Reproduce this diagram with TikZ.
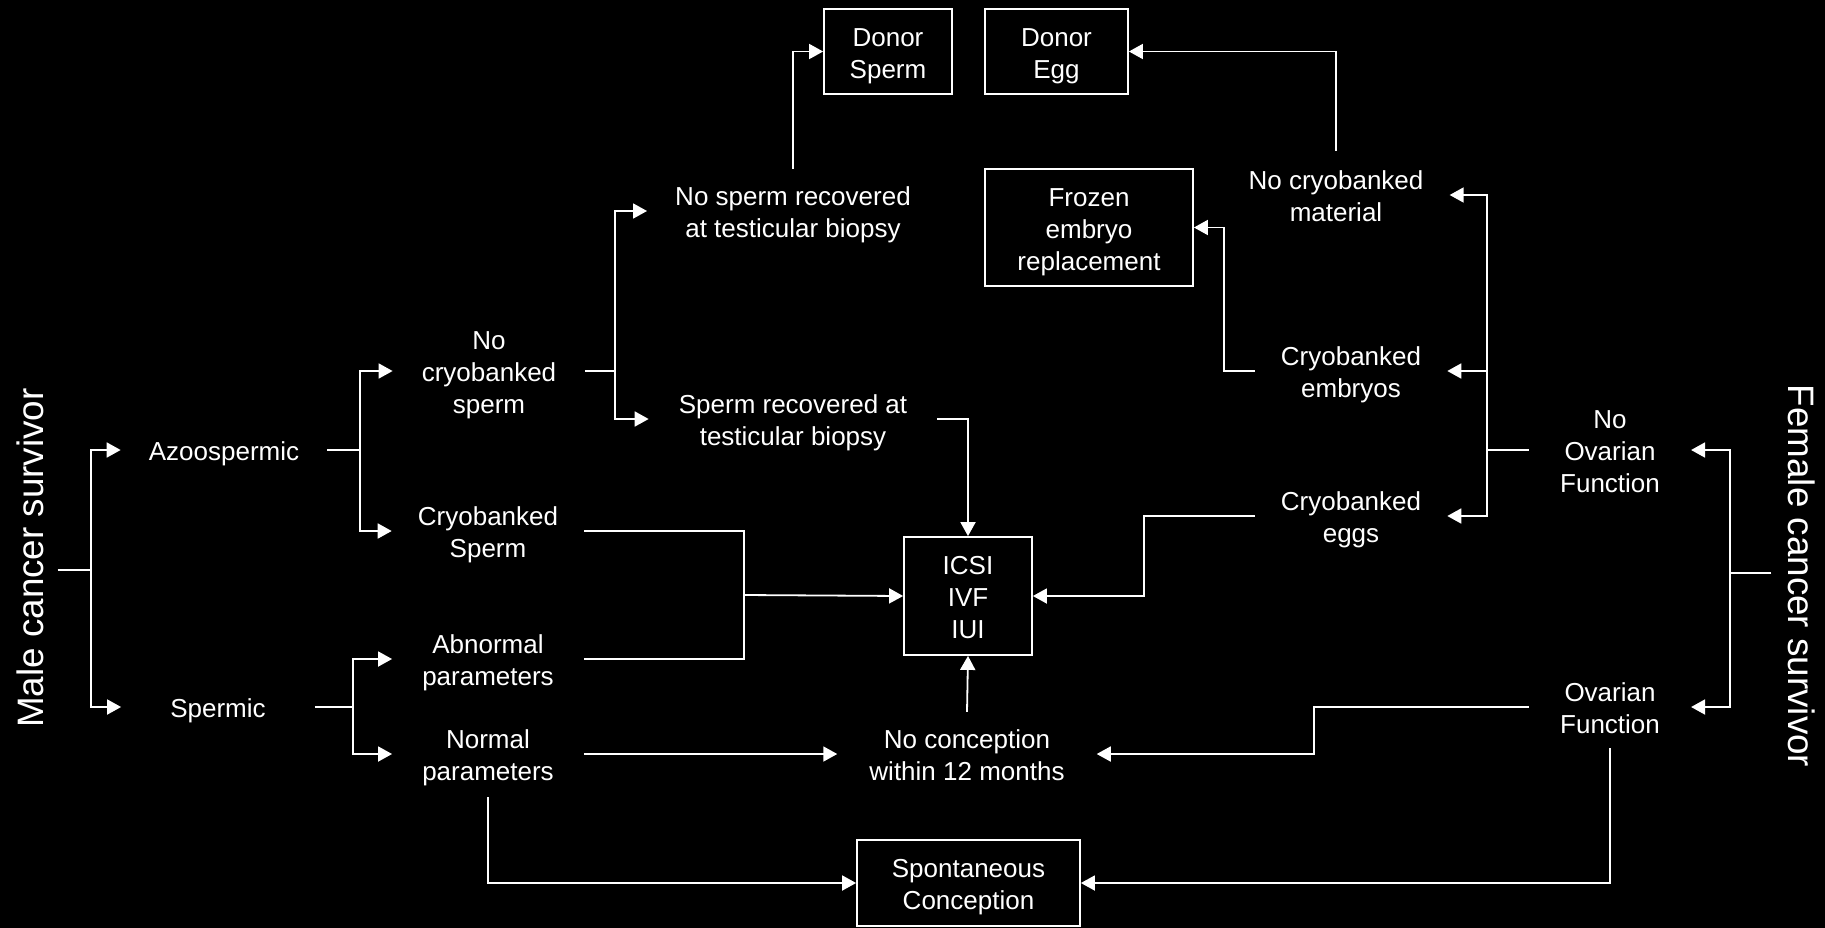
\documentclass[tikz,border=0pt]{standalone}
\usepackage{fontspec}
\setmainfont{Liberation Sans}
\usetikzlibrary{arrows.meta}
\begin{document}
\begin{tikzpicture}[x=1pt,y=-1pt,
  st/.style={execute at begin node={\rule{0pt}{#1}}, execute at end node={\rule[-7pt]{0pt}{7pt}}},
  st/.default=28pt,
  lbl/.style={font=\fontsize{26}{32}\selectfont, align=center, text=white, inner ysep=0pt, minimum height=84pt},
  bx/.style={draw=white, line width=1.8pt, font=\fontsize{26}{32}\selectfont, align=center, text=white, inner sep=0pt},
  ln/.style={draw=white, line width=1.8pt},
  arr/.style={ln, -{Triangle[length=14pt,width=15pt]}},
  side/.style={font=\fontsize{36.8}{44}\selectfont, text=white, inner xsep=0pt}]
\useasboundingbox (0,0) rectangle (1825,927);
\fill[black] (-10,-10) rectangle (1835,937);
% side labels
\node[side, rotate=90, inner ysep=14pt] (male) at (30,558) {Male cancer survivor};
\node[side, rotate=-90, inner ysep=17pt] (female) at (1802,576) {Female cancer survivor};
% text nodes
\node[lbl, st=28pt, inner xsep=28pt] (azoo) at (224,450) {Azoospermic};
\node[lbl, st=28pt, inner xsep=49pt] (spermic) at (218,707) {Spermic};
\node[lbl, st=92pt, inner xsep=29pt] (nocs) at (489,371) {No\\cryobanked\\sperm};
\node[lbl, st=60pt, inner xsep=26pt] (cryos) at (488,531) {Cryobanked\\Sperm};
\node[lbl, st=60pt, inner xsep=30pt] (abn) at (488,659) {Abnormal\\parameters};
\node[lbl, st=60pt, inner xsep=30pt, minimum height=86pt] (norm) at (488,754) {Normal\\parameters};
\node[lbl, st=60pt, inner xsep=28pt] (nosr) at (793,211) {No sperm recovered\\at testicular biopsy};
\node[lbl, st=60pt, inner xsep=30pt] (sr) at (793,419) {Sperm recovered at\\testicular biopsy};
\node[lbl, st=60pt, inner xsep=32pt] (noconc) at (967,754) {No conception\\within 12 months};
\node[lbl, st=60pt, inner xsep=26pt, minimum height=88pt] (nocm) at (1336,195) {No cryobanked\\material};
\node[lbl, st=60pt, inner xsep=26pt] (cemb) at (1351,371) {Cryobanked\\embryos};
\node[lbl, st=60pt, inner xsep=26pt] (cegg) at (1351,516) {Cryobanked\\eggs};
\node[lbl, st=92pt, inner xsep=31pt] (noof) at (1610,450) {No\\Ovarian\\Function};
\node[lbl, st=60pt, inner xsep=31pt, minimum height=82pt] (of) at (1610,707) {Ovarian\\Function};
% boxes
\node[bx, st=60pt, minimum width=128pt, minimum height=85pt] (dsperm) at (888,51.5) {Donor\\Sperm};
\node[bx, st=60pt, minimum width=143pt, minimum height=85pt] (degg) at (1056.5,51.5) {Donor\\Egg};
\node[bx, st=92pt, minimum width=208pt, minimum height=117pt] (frozen) at (1089,227.5) {Frozen\\embryo\\replacement};
\node[bx, st=92pt, minimum width=128pt, minimum height=118pt] (icsi) at (968,596) {ICSI\\IVF\\IUI};
\node[bx, st=60pt, minimum width=223pt, minimum height=86pt] (spont) at (968.5,883) {Spontaneous\\Conception};
% junctions
\coordinate (j0) at (91,570);
\coordinate (j1) at (360,450);
\coordinate (j2) at (353,707);
\coordinate (j3) at (615,371);
\coordinate (j5) at (744,595);
\coordinate (j6) at (1314,730);
\coordinate (j7) at (1730,573);
\coordinate (j8) at (1487,450);
\coordinate (j9) at (1224,300);
\coordinate (j10) at (1144,555);
% connectors
\draw[ln] (male.south |- j0) -- (j0);
\draw[arr] (j0) |- (azoo.west);
\draw[arr] (j0) |- (spermic.west);
\draw[ln] (azoo.east) -- (j1);
\draw[arr] (j1) |- (nocs.west);
\draw[arr] (j1) |- (cryos.west);
\draw[ln] (spermic.east) -- (j2);
\draw[arr] (j2) |- (abn.west);
\draw[arr] (j2) |- (norm.west);
\draw[ln] (nocs.east) -- (j3);
\draw[arr] (j3) |- (nosr.west);
\draw[arr] (j3) |- (sr.west);
\draw[arr] (nosr.north) |- (dsperm.west);
\draw[arr] (sr.east) -| (icsi.north);
\draw[ln] (cryos.east) -| (j5) |- (abn.east);
\draw[arr] (j5) -- (icsi.west);
\draw[arr] (norm.east) -- (noconc.west);
\draw[arr] (noconc.north) -- (icsi.south);
\draw[arr] (norm.south) |- (spont.west);
\draw[arr] (of.south) |- (spont.east);
\draw[arr] (of.west) -| (j6) |- (noconc.east);
\draw[ln] (female.south |- j7) -- (j7);
\draw[arr] (j7) |- (noof.east);
\draw[arr] (j7) |- (of.east);
\draw[ln] (noof.west) -- (j8);
\draw[arr] (j8) |- (nocm.east);
\draw[arr] (j8) |- (cemb.east);
\draw[arr] (j8) |- (cegg.east);
\draw[arr] (nocm.north) |- (degg.east);
\draw[arr] (cemb.west) -| (j9) |- (frozen.east);
\draw[arr] (cegg.west) -| (j10) |- (icsi.east);
\end{tikzpicture}
\end{document}
